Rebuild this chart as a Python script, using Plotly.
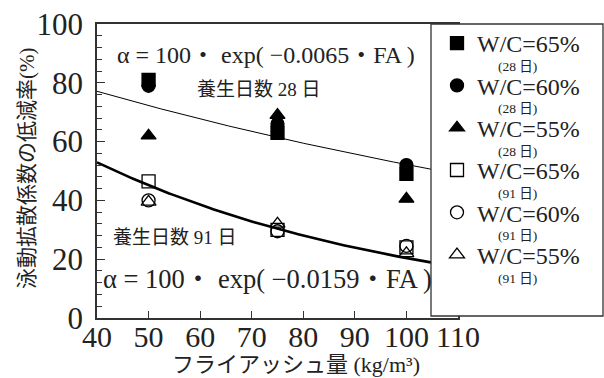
import numpy as np
import plotly.graph_objects as go

# ---- data ----
fa = [50, 75, 100]
wc65_28 = [81, 63, 49]
wc60_28 = [79, 66, 52]
wc55_28 = [62, 69, 40.5]
wc65_91 = [46.5, 30, 24]
wc60_91 = [40, 29.5, 24.5]
wc55_91 = [39.5, 32, 22]

coef_28 = -0.0065
coef_91 = -0.0159
fa_curve = np.linspace(40, 105, 131)
curve_28 = 100 * np.exp(coef_28 * fa_curve)
curve_91 = 100 * np.exp(coef_91 * fa_curve)

x_ticks = [40, 50, 60, 70, 80, 90, 100, 110]
y_ticks = [0, 20, 40, 60, 80, 100]

names = ["W/C=65%", "W/C=60%", "W/C=55%", "W/C=65%", "W/C=60%", "W/C=55%"]
sublabels = ["(28 日)", "(28 日)", "(28 日)", "(91 日)", "(91 日)", "(91 日)"]

SERIF = "Liberation Serif, Noto Sans CJK JP, serif"

# ---- layout geometry (pixels) ----
W, H = 604, 378
L, R, T, B = 97, 146, 24, 60
PW, PH = W - L - R, H - T - B

def px(xp):
    return (xp - L) / PW

def py(yp):
    return (H - B - yp) / PH

fig = go.Figure()

fig.add_trace(go.Scatter(x=fa_curve, y=curve_28, mode="lines",
                         line=dict(color="black", width=1), showlegend=False, hoverinfo="skip"))
fig.add_trace(go.Scatter(x=fa_curve, y=curve_91, mode="lines",
                         line=dict(color="black", width=2.6), showlegend=False, hoverinfo="skip"))

series = [
    (wc60_28, "circle", 1),
    (wc65_28, "square", 0),
    (wc55_28, "triangle-up", 2),
    (wc65_91, "square-open", 3),
    (wc60_91, "circle-open", 4),
    (wc55_91, "triangle-up-open", 5),
]
for vals, sym, idx in series:
    fig.add_trace(go.Scatter(
        x=fa, y=vals, mode="markers", name=names[idx],
        legendgroup="g%d" % idx, legendrank=idx + 1,
        marker=dict(symbol=sym, size=13, color="black",
                    line=dict(color="black", width=1.3)),
    ))

def ann(text, x, y, size, **kw):
    d = dict(text=text, x=px(x), y=py(y), xref="paper", yref="paper",
             xanchor="center", yanchor="middle", showarrow=False,
             font=dict(size=size, family=SERIF, color="#222"))
    d.update(kw)
    return d

annotations = [
    ann("α = 100・ exp( −0.0065・FA )", 266, 55, 24),
    ann("養生日数 28 日", 259, 89, 19),
    ann("養生日数 91 日", 175, 238, 19),
    ann("α = 100・ exp( −0.0159・FA )", 267, 279, 26.5),
    ann("泳動拡散係数の低減率(%)", 27, 169, 21, textangle=-90),
    ann("フライアッシュ量 (kg/m³)", 296, 364, 22),
]
sub_y = [66.5, 108.8, 151.1, 193.4, 235.7, 278.0]
for s, yy in zip(sublabels, sub_y):
    annotations.append(ann(s, 517, yy, 13.5))

fig.update_layout(
    width=W, height=H,
    margin=dict(l=L, r=R, t=T, b=B, pad=0, autoexpand=False),
    paper_bgcolor="white", plot_bgcolor="white",
    font=dict(family=SERIF, color="#222"),
    showlegend=True,
    legend=dict(xref="container", yref="container", x=437 / W, y=1 - 21 / H,
                xanchor="left", yanchor="top", maxheight=360,
                bgcolor="rgba(0,0,0,0)", borderwidth=0,
                font=dict(size=24, family=SERIF, color="#222"),
                tracegroupgap=8.1, itemwidth=30),
    annotations=annotations,
    shapes=[dict(type="rect", xref="paper", yref="paper",
                 x0=px(431), x1=px(603), y0=py(316), y1=py(24),
                 line=dict(color="#333", width=1.3), fillcolor="white", layer="above")],
)

fig.update_xaxes(range=[40, 110], tickvals=x_ticks, ticks="inside", ticklen=7,
                 tickcolor="#333", showline=True, linecolor="#333", linewidth=1.5,
                 mirror=True, showgrid=False, zeroline=False, automargin=False,
                 tickfont=dict(size=30, family=SERIF, color="#222"), ticklabelstandoff=-9)
fig.update_yaxes(range=[0, 100], tickvals=y_ticks, ticks="inside", ticklen=8,
                 tickcolor="#333", showline=True, linecolor="#333", linewidth=1.5,
                 mirror=True, showgrid=False, zeroline=False, automargin=False,
                 minor=dict(dtick=4, ticks="inside", ticklen=5, tickcolor="#333", showgrid=False),
                 tickfont=dict(size=31, family=SERIF, color="#222"), ticklabelstandoff=6)

fig.write_html("out.html", config={"displayModeBar": False},
               post_script="document.body.style.margin='0';document.body.style.overflow='hidden';")
